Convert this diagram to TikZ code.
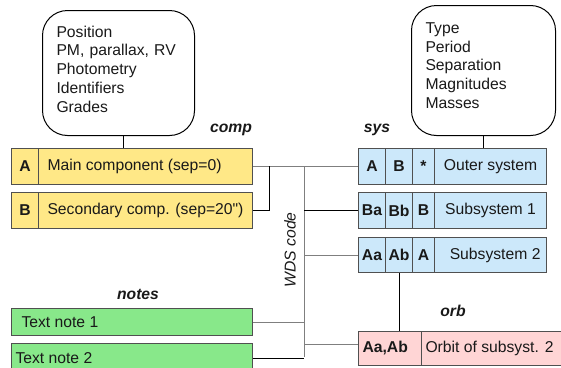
\documentclass[tikz,border=0pt]{standalone}
\usepackage{fontspec}
\setmainfont{Liberation Sans}
\definecolor{yfill}{HTML}{FFE887}
\definecolor{bfill}{HTML}{CCE8FA}
\definecolor{gfill}{HTML}{88E88A}
\definecolor{pfill}{HTML}{FFD5D5}
\definecolor{boxline}{HTML}{505050}
\definecolor{wiregray}{HTML}{7F7F7F}
\begin{document}
\begin{tikzpicture}[x=1pt,y=-1pt,
  every node/.style={font=\fontsize{15.7}{18.7}\selectfont, text=black!90},
  box/.style={draw=boxline, line width=1pt, inner sep=0pt, anchor=north west},
  ycell/.style={box, fill=yfill},
  bcell/.style={box, fill=bfill},
  gcell/.style={box, fill=gfill},
  pcell/.style={box, fill=pfill},
  keytext/.style={font=\fontsize{15.7}{18.7}\selectfont\bfseries},
  lab/.style={font=\fontsize{15.7}{18.7}\selectfont\bfseries\itshape},
  roundbox/.style={draw=black, line width=1pt, rounded corners=25pt, anchor=north west, align=left, inner ysep=0pt, inner xsep=14pt},
  wire/.style={draw=black, line width=1pt},
  wireg/.style={draw=wiregray, line width=1pt}
]
\useasboundingbox (0,0) rectangle (561,367);
\clip (0,0) rectangle (561,367);

% info boxes
\node[roundbox, minimum width=152pt, minimum height=125pt, text width=124pt] (lbox) at (42,10)
  {Position\\PM, parallax, RV\\Photometry\\Identifiers\\Grades\rule[-8pt]{0pt}{8pt}};
\node[roundbox, minimum width=144pt, minimum height=130pt, text width=116pt] (rbox) at (411,5)
  {Type\\Period\\Separation\\Magnitudes\\Masses\rule[-10pt]{0pt}{10pt}};

% comp
\node[ycell, keytext, minimum width=27pt, minimum height=36pt] (cAk) at (11,148) {A};
\node[ycell, minimum height=36pt, inner xsep=9pt] (cAt) at (38,148) {\makebox[196pt][l]{Main component (sep=0)}};
\node[ycell, keytext, minimum width=27pt, minimum height=36pt] (cBk) at (11,192) {B};
\node[ycell, minimum height=36pt, inner xsep=9pt] (cBt) at (38,192) {\makebox[196pt][l]{Secondary comp. (sep=20\textquotedbl)}};

% notes
\node[gcell, minimum height=27pt, inner xsep=10pt] (n1) at (11,308) {\makebox[221pt][l]{Text note 1}};
\node[gcell, minimum height=29pt, inner xsep=4pt] (n2) at (11,343) {\makebox[233pt][l]{Text note 2}};

% sys
\node[bcell, keytext, minimum width=27pt, minimum height=36pt] (sA) at (358,148) {A};
\node[bcell, keytext, minimum width=27pt, minimum height=36pt] (sB) at (385,148) {B};
\node[bcell, keytext, minimum width=22pt, minimum height=36pt] (sC) at (412,148) {*};
\node[bcell, minimum width=112pt, minimum height=36pt] (sD) at (434,148) {Outer system};

\node[bcell, keytext, minimum width=27pt, minimum height=36pt] (s1a) at (358,192) {Ba};
\node[bcell, keytext, minimum width=27pt, minimum height=36pt] (s1b) at (385,192) {Bb};
\node[bcell, keytext, minimum width=22pt, minimum height=36pt] (s1c) at (412,192) {B};
\node[bcell, minimum width=112pt, minimum height=36pt] (s1d) at (434,192) {Subsystem 1};

\node[bcell, keytext, minimum width=27pt, minimum height=35pt] (s2a) at (358,237) {Aa};
\node[bcell, keytext, minimum width=27pt, minimum height=35pt] (s2b) at (385,237) {Ab};
\node[bcell, keytext, minimum width=22pt, minimum height=35pt] (s2c) at (412,237) {A};
\node[bcell, minimum height=35pt, inner xsep=6pt] (s2d) at (434,237) {\makebox[100pt][r]{Subsystem 2}};

% orb
\node[pcell, keytext, minimum height=34pt, inner xsep=4pt] (oA) at (358,331) {\makebox[55pt][l]{Aa,Ab}};
\node[pcell, minimum height=34pt, inner xsep=4pt] (oB) at (421,331) {\makebox[133pt][l]{Orbit of subsyst. 2}};

% labels
\node[lab] (lcomp) at (231,130) {comp};
\node[lab] (lsys) at (377,130) {sys};
\node[lab] (lnotes) at (138,294) {notes};
\node[lab] (lorb) at (453,311) {orb};
\node[rotate=90, font=\fontsize{15.7}{18.7}\selectfont\itshape] (wds) at (290,250) {WDS code};

% connectors
\coordinate (jB) at (269,166);
\coordinate (tT) at (304,166);
\coordinate (tB) at (304,357);
\draw[wire] ([xshift=5pt]lbox.south) -- ([xshift=5pt]lbox.south |- cAt.north);
\draw[wire] (rbox.south) -- (rbox.south |- sD.north);
\draw[wireg] (cAt.east) -- (sA.west);
\draw[wire] (cBt.east) -| (jB);
\draw[wireg] (tT) -- (tB);
\draw[wire] (s1a.west) -- (s1a.west -| tT);
\draw[wireg] (s2a.west) -- (s2a.west -| tT);
\draw[wireg] (n1.east) -- (n1.east -| tT);
\draw[wireg] ([yshift=4pt]oA.west) -- ([yshift=4pt]oA.west -| tT);
\draw[wire] (n2.east) -- (n2.east -| tT);
\draw[wire] (s2b.south) -- (s2b.south |- oA.north);
\end{tikzpicture}
\end{document}
